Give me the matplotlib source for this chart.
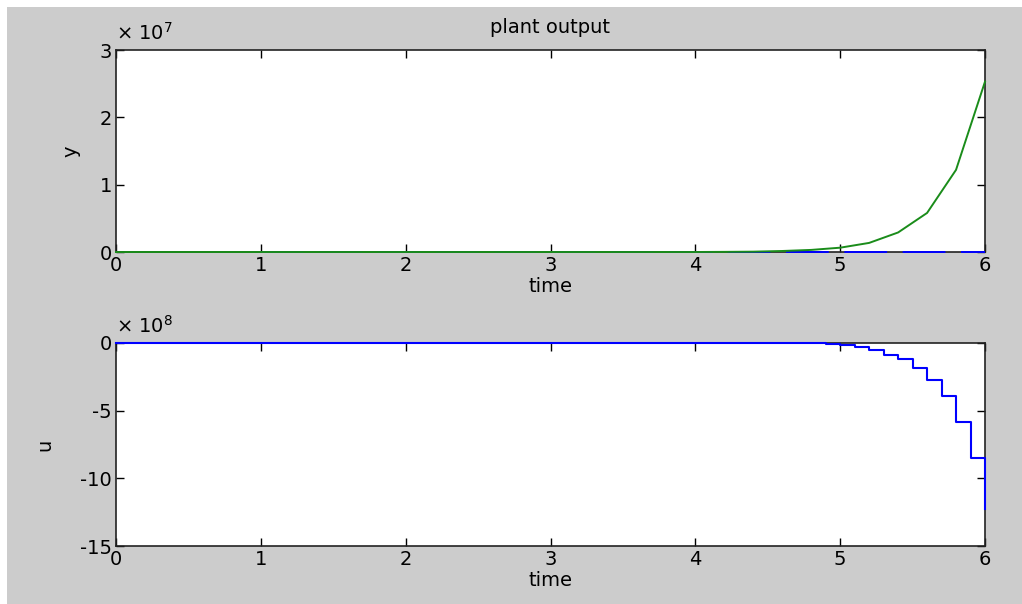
"""
Plant output / control input plot, MATLAB-style two-panel figure.
"""

import matplotlib
matplotlib.use("Agg")
import matplotlib.pyplot as plt
from matplotlib.patches import Rectangle

# plant output y (units of 1e7), sampled every 0.2 s near the end
y_time = [0.0, 4.0, 4.2, 4.4, 4.6, 4.8, 5.0, 5.2, 5.4, 5.6, 5.8, 6.0]
y_vals = [0.0, 0.0, 0.002, 0.005, 0.015, 0.031, 0.064, 0.135, 0.29, 0.58, 1.22, 2.53]

# reference step (blue, near zero on this scale)
r_time = [1.0, 6.0]
r_vals = [0.0, 0.0]

# control input u (units of 1e8), zero-order hold, change points every 0.1 s
u_time = [0.0, 4.8, 4.9, 5.0, 5.1, 5.2, 5.3, 5.4, 5.5, 5.6, 5.7, 5.8, 5.9, 6.0]
u_vals = [0.0, -0.03, -0.07, -0.15, -0.3, -0.55, -0.85, -1.2, -1.88, -2.75,
          -3.95, -5.83, -8.48, -12.3]

x_ticks = [0, 1, 2, 3, 4, 5, 6]
y_ticks = [0, 1, 2, 3]
u_ticks = [-15, -10, -5, 0]

GRAY = "#cccccc"
FS = 14

plt.rcParams["font.family"] = ["DejaVu Sans"]
plt.rcParams["font.size"] = FS
plt.rcParams["axes.unicode_minus"] = False

W, H = 1022, 604
fig = plt.figure(figsize=(W / 100, H / 100), dpi=100, facecolor="white")
fig.patches.append(Rectangle((7 / W, 0), 1 - 7 / W, (H - 7) / H,
                             transform=fig.transFigure, facecolor=GRAY,
                             edgecolor="none", zorder=-10))


def style(ax):
    ax.set_xlim(0, 6)
    ax.set_xticks(x_ticks)
    ax.tick_params(direction="in", length=6, width=1, top=True, right=True,
                   labelsize=FS, pad=3, colors="black")
    for s in ax.spines.values():
        s.set_linewidth(1.2)
        s.set_color("#222222")


ax1 = fig.add_axes([116 / W, (H - 252) / H, 869 / W, 202 / H])
ax1.plot(r_time, r_vals, color="#0000ff", lw=1.4, dashes=(22, 8), zorder=3,
         clip_on=False)
ax1.plot(y_time, y_vals, color="#1a8c1a", lw=1.4, zorder=4, clip_on=False)
style(ax1)
ax1.set_ylim(0, 3)
ax1.set_yticks(y_ticks)
ax1.set_title("plant output", fontsize=FS, pad=12)
ax1.set_xlabel("time", fontsize=FS, labelpad=1)
ax1.set_ylabel("y", fontsize=FS, labelpad=14)
ax1.text(0, 1.03, r"× 10$^{7}$", transform=ax1.transAxes, fontsize=FS,
         ha="left", va="bottom")

ax2 = fig.add_axes([116 / W, (H - 546) / H, 869 / W, 203 / H])
ax2.step(u_time, u_vals, where="post", color="#0000ff", lw=1.5, zorder=3,
         clip_on=False)
style(ax2)
ax2.set_ylim(-15, 0)
ax2.set_yticks(u_ticks)
ax2.set_xlabel("time", fontsize=FS, labelpad=1)
ax2.set_ylabel("u", fontsize=FS, labelpad=18)
ax2.text(0, 1.03, r"× 10$^{8}$", transform=ax2.transAxes, fontsize=FS,
         ha="left", va="bottom")

fig.savefig("out.png", dpi=100, facecolor=fig.get_facecolor())
